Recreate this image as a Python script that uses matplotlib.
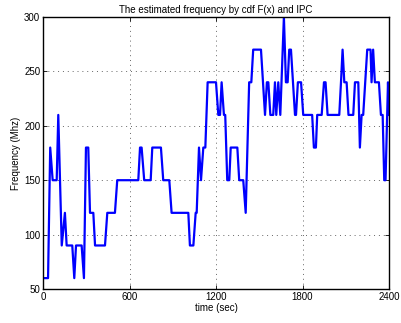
import matplotlib
matplotlib.use("Agg")
import matplotlib.pyplot as plt

plt.rcParams['font.family'] = ['Liberation Sans', 'DejaVu Sans']

time_sec = [0, 35, 50, 67, 95, 106, 130, 152, 164, 203,
            217, 229, 268, 284, 298, 314, 326, 349, 361, 430,
            446, 499, 515, 661, 673, 684, 702, 747, 758, 818,
            834, 876, 892, 1008, 1019, 1043, 1059, 1066, 1082, 1096,
            1112, 1126, 1142, 1200, 1216, 1228, 1239, 1255, 1264, 1278,
            1292, 1302, 1348, 1361, 1389, 1406, 1430, 1445, 1458, 1512,
            1540, 1553, 1563, 1577, 1597, 1609, 1618, 1632, 1646, 1671,
            1685, 1697, 1708, 1720, 1748, 1755, 1768, 1790, 1805, 1867,
            1879, 1893, 1902, 1933, 1949, 1960, 1974, 2055, 2067, 2078,
            2090, 2106, 2119, 2152, 2164, 2187, 2198, 2210, 2221, 2249,
            2272, 2279, 2290, 2302, 2330, 2344, 2356, 2367, 2376, 2393,
            2400]
freq_mhz = [60, 60, 180, 150, 150, 210, 90, 120, 90, 90,
            60, 90, 90, 60, 180, 180, 120, 120, 90, 90,
            120, 120, 150, 150, 180, 180, 150, 150, 180, 180,
            150, 150, 120, 120, 90, 90, 120, 120, 180, 150,
            180, 180, 240, 240, 210, 210, 240, 210, 210, 150,
            150, 180, 180, 150, 150, 120, 240, 240, 270, 270,
            210, 240, 240, 210, 210, 240, 210, 240, 210, 300,
            240, 240, 270, 270, 210, 210, 240, 240, 210, 210,
            180, 180, 210, 210, 240, 240, 210, 210, 240, 270,
            240, 240, 210, 210, 240, 240, 180, 210, 210, 270,
            270, 240, 270, 240, 240, 210, 210, 150, 150, 240,
            210]

x_ticks = [0, 600, 1200, 1800, 2400]
y_ticks = [50, 100, 150, 200, 250, 300]

fig = plt.figure(figsize=(4.01, 3.23), dpi=100)
ax = fig.add_axes([43/401, 34/323, 346/401, 272/323])
ax.plot(time_sec, freq_mhz, color=(0, 0, 1), lw=1.6, clip_on=True)
ax.set_xlim(0, 2400)
ax.set_ylim(50, 300)
ax.set_xticks(x_ticks)
ax.set_yticks(y_ticks)
ax.grid(True, linestyle=(0, (1, 4)), color='0.4', linewidth=0.7)
ax.tick_params(direction='in', length=3, width=0.6, labelsize=7, top=True, right=True, pad=2)
for s in ax.spines.values():
    s.set_linewidth(1.0)
ax.set_xlabel('time (sec)', fontsize=7, labelpad=1)
ax.set_ylabel('Frequency (Mhz)', fontsize=7, labelpad=2)
ax.set_title('The estimated frequency by cdf F(x) and IPC', fontsize=7, pad=3)
fig.savefig('out.png', dpi=100)
